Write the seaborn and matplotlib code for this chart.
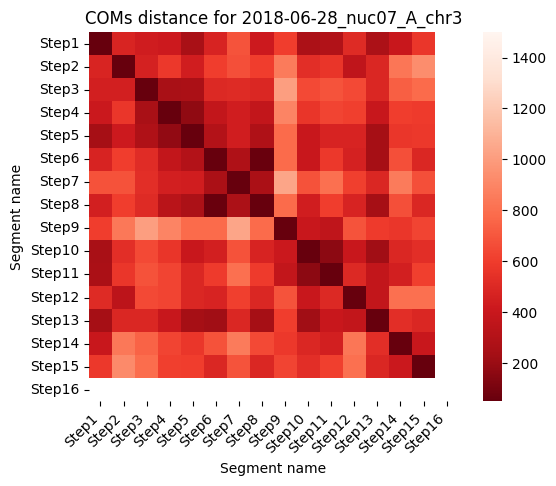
import numpy as np
import pandas as pd
import seaborn as sns
import matplotlib.pyplot as plt

segments = ['Step%d' % i for i in range(1, 17)]

# distances (Step16 has no data)
step1 = [50, 480, 430, 420, 250, 470, 690, 420, 600, 270, 290, 510, 270, 400, 570]
step2 = [480, 50, 460, 580, 440, 600, 670, 600, 850, 530, 560, 360, 490, 830, 930]
step3 = [450, 450, 50, 250, 260, 500, 510, 490, 1010, 650, 690, 650, 490, 730, 780]
step4 = [410, 570, 250, 50, 170, 370, 440, 370, 890, 565, 630, 610, 390, 600, 590]
step5 = [240, 420, 280, 180, 50, 300, 440, 280, 780, 400, 470, 470, 240, 570, 580]
step6 = [470, 600, 520, 370, 300, 50, 280, 60, 780, 400, 580, 460, 240, 670, 490]
step7 = [680, 680, 530, 450, 440, 260, 50, 260, 1040, 680, 800, 610, 490, 850, 670]
step8 = [450, 600, 510, 330, 270, 60, 270, 50, 780, 440, 600, 470, 240, 670, 490]
step9 = [600, 840, 1010, 890, 780, 780, 1040, 780, 50, 400, 360, 690, 590, 570, 630]
step10 = [250, 530, 650, 565, 400, 450, 680, 470, 410, 50, 160, 400, 225, 490, 530]
step11 = [260, 570, 680, 630, 490, 590, 800, 590, 370, 160, 50, 500, 370, 450, 610]
step12 = [510, 340, 650, 630, 490, 470, 610, 490, 690, 400, 500, 50, 370, 800, 800]
step13 = [240, 490, 490, 390, 240, 225, 490, 240, 600, 225, 400, 370, 50, 530, 490]
step14 = [400, 840, 750, 630, 570, 680, 850, 650, 580, 490, 450, 830, 530, 50, 400]
step15 = [580, 920, 790, 610, 600, 490, 690, 490, 630, 530, 610, 800, 490, 410, 50]

rows = [step1, step2, step3, step4, step5, step6, step7, step8, step9,
        step10, step11, step12, step13, step14, step15]
dist = pd.DataFrame(rows, index=segments[:15], columns=segments[:15])
dist = dist.reindex(index=segments, columns=segments)

fig = plt.figure(figsize=(5.56, 4.86), dpi=100)
ax = fig.add_axes([0.160, 0.174, 0.664, 0.760])
cax = fig.add_axes([0.869, 0.174, 0.034, 0.760])
sns.heatmap(dist, cmap='Reds_r', vmin=50, vmax=1500, ax=ax, cbar_ax=cax)
ax.set_title('COMs distance for 2018-06-28_nuc07_A_chr3')
ax.set_xlabel('Segment name')
ax.set_ylabel('Segment name')
plt.setp(ax.get_xticklabels(), rotation=45, ha='right')
plt.setp(ax.get_yticklabels(), rotation=0)
plt.savefig('out.png')
